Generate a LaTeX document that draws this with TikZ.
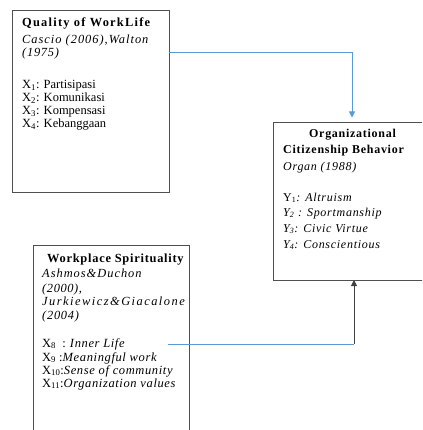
\documentclass[tikz,border=0pt]{standalone}
\usepackage{fontspec}
\setmainfont{Liberation Serif}
\usetikzlibrary{arrows.meta}
\definecolor{lnblue}{RGB}{91,155,213}
\definecolor{boxgray}{RGB}{80,80,80}
\newcommand\tbx[2][9]{{\bfseries\addfontfeature{LetterSpace=#1}#2}}
\newcommand\tix[2][10]{{\itshape\addfontfeature{LetterSpace=#1}#2}}
\begin{document}
\begin{tikzpicture}[x=1pt,y=-1pt,
  box/.style={draw=boxgray,line width=0.9pt,inner sep=0pt,outer sep=0pt},
  txt/.style={anchor=base west,inner sep=0pt,font=\fontsize{12.5}{13}\selectfont},
  txtm/.style={txt,font=\fontsize{12.4}{13}\selectfont},
  txtb/.style={txt,font=\fontsize{12}{14}\selectfont},
  tip/.style={-{Triangle[length=6pt,width=6pt]}}]
\useasboundingbox (0,0) rectangle (422,430);
\clip (0,0) rectangle (422,430);
% boxes
\node[box,minimum width=157pt,minimum height=182pt] (q) at (90.5,101) {};
\node[box,minimum width=158pt,minimum height=158pt] (o) at (352,201) {};
\node[box,minimum width=156pt,minimum height=200pt] (w) at (111,345) {};
% box 1 text
\node[txtm] (q1) at (22,27) {\tbx[10]{Quality of WorkLife}};
\node[txtm] (q2) at (22,44) {\tix[8]{Cascio (2006),Walton}};
\node[txtm] (q3) at (22,57) {\tix[6]{(1975)}};
\node[txt] (q4) at (22,89) {X\textsubscript{1}: Partisipasi};
\node[txt] (q5) at (22,102) {X\textsubscript{2}: Komunikasi};
\node[txt] (q6) at (22,115) {X\textsubscript{3}: Kompensasi};
\node[txt] (q7) at (22,128) {X\textsubscript{4}: Kebanggaan};
% box 2 text
\node[txtb,anchor=base] (o1) at (352.5,138) {\tbx[6]{Organizational}};
\node[txtb] (o2) at (283,154) {\tbx[6]{Citizenship Behavior}};
\node[txtb] (o3) at (283,171) {\tix[6]{Organ (1988)}};
\node[txtb] (o4) at (283,201) {Y\textsubscript{1}\tix[6]{: Altruism}};
\node[txtb] (o5) at (283,216) {\tix[6]{Y\textsubscript{2} : Sportmanship}};
\node[txtb] (o6) at (283,232) {\tix[6]{Y\textsubscript{3}: Civic Virtue}};
\node[txtb] (o7) at (283,248) {\tix[6]{Y\textsubscript{4}: Conscientious}};
% box 3 text
\node[txtm] (w1) at (47,262) {\tbx[6]{Workplace Spirituality}};
\node[txtm] (w2) at (42,277) {\tix[8]{Ashmos\&Duchon}};
\node[txtm] (w3) at (42,292) {\tix[5]{(2000),}};
\node[txtm] (w4) at (42,305) {\tix[12]{Jurkiewicz\&Giacalone}};
\node[txtm] (w5) at (42,319) {\tix[6]{(2004)}};
\node[txt] (w6) at (42,347) {X\textsubscript{8}\ \ : \tix[5]{Inner Life}};
\node[txt] (w7) at (42,361) {X\textsubscript{9}\ :\tix[5]{Meaningful work}};
\node[txt] (w8) at (42,374) {X\textsubscript{10}:\tix[5]{Sense of community}};
\node[txt] (w9) at (42,387) {X\textsubscript{11}:\tix[5]{Organization values}};
% connectors
\draw[lnblue,line width=1pt,tip,shorten >=4.5pt] ([yshift=-43pt]q.north east) -| (o.north);
\coordinate (s) at (168,344);
\coordinate (k) at (354,344);
\draw[lnblue,line width=1pt] (s) -- (k);
\draw[black!75,line width=1pt,tip] (k) -- (k |- o.south);
\end{tikzpicture}
\end{document}
